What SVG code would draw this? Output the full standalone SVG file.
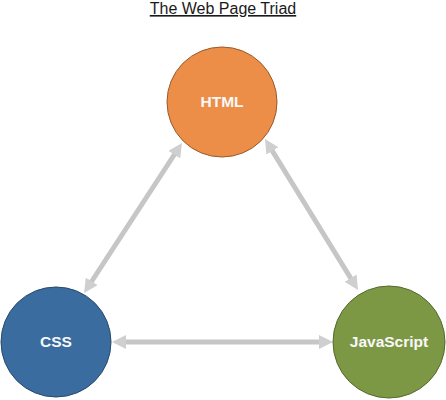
<svg xmlns="http://www.w3.org/2000/svg" width="446" height="400" viewBox="0 0 446 400">
<style>
.title{font-family:"Liberation Sans",Arial,sans-serif;font-size:16px;fill:#1a1a1a;text-decoration:underline}
.lbl{font-family:"Liberation Sans",Arial,sans-serif;font-size:15.5px;font-weight:bold;fill:#f8f8f8;text-anchor:middle}
.conn{stroke:#c6c6c6;stroke-width:5;fill:none;marker-start:url(#ah);marker-end:url(#ah)}
</style>
<defs>
<marker id="ah" markerUnits="userSpaceOnUse" viewBox="0 0 14 14" markerWidth="14" markerHeight="14" refX="2" refY="7" orient="auto-start-reverse">
<path d="M0,0 L14,7 L0,14 z" fill="#cfcfcf"/>
</marker>
</defs>
<rect width="446" height="400" fill="#ffffff"/>
<text class="title" x="223" y="14" text-anchor="middle">The Web Page Triad</text>
<g id="connectors">
<line class="conn" x1="175.4" y1="153" x2="90.6" y2="283"/>
<line class="conn" x1="271.3" y1="149.2" x2="351.7" y2="279.8"/>
<line class="conn" x1="124" y1="342" x2="321" y2="342"/>
</g>
<g id="html">
<circle cx="222" cy="102" r="55" fill="#ed8e48" stroke="#9a5a2a" stroke-width="1"/>
<text class="lbl" x="222" y="107">HTML</text>
</g>
<g id="css">
<circle cx="56" cy="342" r="55" fill="#3b6c9f" stroke="#284a6e" stroke-width="1"/>
<text class="lbl" x="56" y="347">CSS</text>
</g>
<g id="javascript">
<circle cx="389" cy="342" r="56" fill="#7d9845" stroke="#55692e" stroke-width="1"/>
<text class="lbl" x="389" y="347">JavaScript</text>
</g>
</svg>
